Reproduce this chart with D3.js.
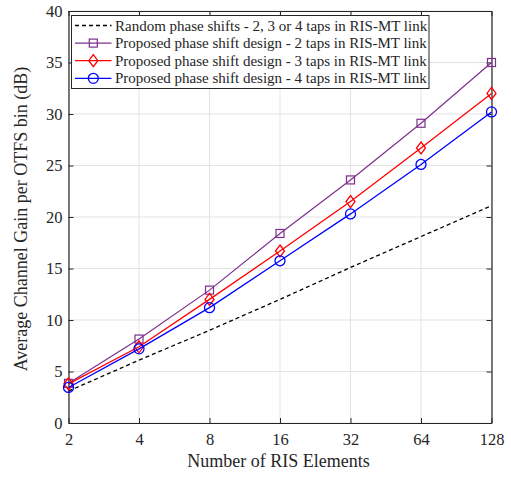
<!DOCTYPE html>
<html>
<head>
<meta charset="utf-8">
<script src="https://cdn.jsdelivr.net/npm/d3@7"></script>
<style>
  body { margin: 0; background: #fff; }
  text { font-family: "Liberation Serif", "Times New Roman", serif; fill: #262626; }
</style>
</head>
<body>
<svg width="511" height="477"></svg>
<script>
// data
var elements = [2, 4, 8, 16, 32, 64, 128];
var randomPhase = [3.1, 6.1, 9.0, 12.0, 15.1, 18.1, 21.1];
var taps2 = [3.85, 8.15, 12.9, 18.4, 23.6, 29.1, 35.0];
var taps3 = [3.8, 7.4, 12.0, 16.7, 21.5, 26.7, 32.0];
var taps4 = [3.45, 7.2, 11.2, 15.75, 20.3, 25.1, 30.2];
var yTicks = [0, 5, 10, 15, 20, 25, 30, 35, 40];
var legendLabels = [
  'Random phase shifts - 2, 3 or 4 taps in RIS-MT link',
  'Proposed phase shift design - 2 taps in RIS-MT link',
  'Proposed phase shift design - 3 taps in RIS-MT link',
  'Proposed phase shift design - 4 taps in RIS-MT link'
];

var LEFT = 68.5, RIGHT = 491.5, TOP = 11, BOTTOM = 423;

var svg = d3.select('svg');

var xScale = d3.scaleLog().base(2).domain([2, 128]).range([LEFT, RIGHT]);
var yScale = d3.scaleLinear().domain([0, 40]).range([BOTTOM, TOP]);

// grid
var grid = svg.append('g');
grid.selectAll('.vg').data(elements).enter().append('line')
  .attr('x1', function(d){ return xScale(d); })
  .attr('x2', function(d){ return xScale(d); })
  .attr('y1', TOP).attr('y2', BOTTOM)
  .attr('stroke', '#e3e3e3').attr('stroke-width', 1);
grid.selectAll('.hg').data(yTicks).enter().append('line')
  .attr('y1', function(d){ return yScale(d); })
  .attr('y2', function(d){ return yScale(d); })
  .attr('x1', LEFT).attr('x2', RIGHT)
  .attr('stroke', '#e3e3e3').attr('stroke-width', 1);

// axes (ticks pointing inward, box on all sides)
var bottomAxis = d3.axisBottom(xScale).tickValues(elements).tickFormat(d3.format('d'))
  .tickSizeInner(-5).tickSizeOuter(0).tickPadding(10);
var topAxis = d3.axisTop(xScale).tickValues(elements).tickFormat('')
  .tickSizeInner(-5).tickSizeOuter(0);
var leftAxis = d3.axisLeft(yScale).tickValues(yTicks)
  .tickSizeInner(-5).tickSizeOuter(0).tickPadding(6);
var rightAxis = d3.axisRight(yScale).tickValues(yTicks).tickFormat('')
  .tickSizeInner(-5).tickSizeOuter(0);

function styleAxis(g){
  g.select('.domain').attr('stroke', '#262626').attr('stroke-width', 1.2);
  g.selectAll('.tick line').attr('stroke', '#262626');
  g.selectAll('.tick text').attr('font-size', 16.5)
    .attr('font-family', '"Liberation Serif", serif').attr('fill', '#262626');
}
svg.append('g').attr('transform', 'translate(0,' + BOTTOM + ')').call(bottomAxis).call(styleAxis);
svg.append('g').attr('transform', 'translate(0,' + TOP + ')').call(topAxis).call(styleAxis);
svg.append('g').attr('transform', 'translate(' + LEFT + ',0)').call(leftAxis).call(styleAxis);
svg.append('g').attr('transform', 'translate(' + RIGHT + ',0)').call(rightAxis).call(styleAxis);

// axis labels
svg.append('text')
  .attr('x', 278.5).attr('y', 467)
  .attr('text-anchor', 'middle').attr('font-size', 18)
  .text('Number of RIS Elements');
svg.append('text')
  .attr('transform', 'translate(27,219) rotate(-90)')
  .attr('text-anchor', 'middle').attr('font-size', 18)
  .text('Average Channel Gain per OTFS bin (dB)');

var series = [
  { values: randomPhase, color: '#000000', dash: '4,3', marker: null, width: 1.3 },
  { values: taps2, color: '#7E2F8E', dash: null, marker: 'square', width: 1.2 },
  { values: taps3, color: '#ff0000', dash: null, marker: 'diamond', width: 1.3 },
  { values: taps4, color: '#0000ff', dash: null, marker: 'circle', width: 1.3 }
];

var line = d3.line()
  .x(function(d, i){ return xScale(elements[i]); })
  .y(function(d){ return yScale(d); });

function drawMarker(g, type, x, y, color){
  if (type === 'square') {
    g.append('rect').attr('x', x - 4).attr('y', y - 4).attr('width', 8).attr('height', 8)
      .attr('fill', 'none').attr('stroke', color).attr('stroke-width', 1.2);
  } else if (type === 'diamond') {
    g.append('path')
      .attr('d', 'M' + x + ',' + (y - 6) + 'L' + (x + 4.5) + ',' + y + 'L' + x + ',' + (y + 6) + 'L' + (x - 4.5) + ',' + y + 'Z')
      .attr('fill', 'none').attr('stroke', color).attr('stroke-width', 1.3);
  } else if (type === 'circle') {
    g.append('circle').attr('cx', x).attr('cy', y).attr('r', 5)
      .attr('fill', 'none').attr('stroke', color).attr('stroke-width', 1.3);
  }
}

var plot = svg.append('g');
series.forEach(function(s){
  plot.append('path').datum(s.values)
    .attr('d', line)
    .attr('fill', 'none')
    .attr('stroke', s.color)
    .attr('stroke-width', s.width)
    .attr('stroke-dasharray', s.dash);
  if (s.marker) {
    s.values.forEach(function(v, i){
      drawMarker(plot, s.marker, xScale(elements[i]), yScale(v), s.color);
    });
  }
});

// legend
var legend = svg.append('g');
legend.append('rect')
  .attr('x', 71.5).attr('y', 15.5).attr('width', 357.5).attr('height', 73)
  .attr('fill', '#fff').attr('stroke', '#262626').attr('stroke-width', 1);
series.forEach(function(s, i){
  var y = 25.5 + i * 17.6;
  legend.append('line')
    .attr('x1', 75).attr('x2', 111.5).attr('y1', y).attr('y2', y)
    .attr('stroke', s.color).attr('stroke-width', s.width)
    .attr('stroke-dasharray', s.dash);
  if (s.marker) drawMarker(legend, s.marker, 93.3, y, s.color);
  legend.append('text')
    .attr('x', 115).attr('y', y + 5)
    .attr('font-size', 15)
    .text(legendLabels[i]);
});
</script>
</body>
</html>
